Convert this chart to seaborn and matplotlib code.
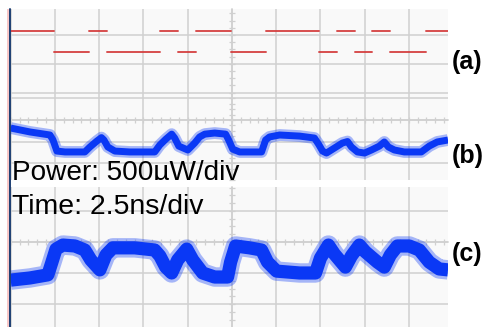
import matplotlib
matplotlib.use("Agg")
import matplotlib.pyplot as plt
from matplotlib.ticker import MultipleLocator
from matplotlib.lines import Line2D
from matplotlib.patches import Rectangle
import pandas as pd
import seaborn as sns

# ---------------- data (time in ns, amplitude in screen divisions) ----------------
# (a) digital drive signal: horizontal segments
a_seg_start = [0.00, 2.45, 4.45, 5.45, 8.45, 9.45, 10.45, 12.45, 14.45, 17.45, 18.45, 19.45, 20.45, 21.45, 23.45]
a_seg_end = [2.45, 4.45, 5.45, 8.45, 9.45, 10.45, 12.45, 14.45, 17.45, 18.45, 19.45, 20.45, 21.45, 23.45, 24.72]
a_seg_level = [2.13, 1.41, 2.13, 1.41, 2.13, 1.41, 2.13, 1.41, 2.13, 1.41, 2.13, 1.41, 2.13, 1.41, 2.13]

# (b) optical power trace
b_time = [0.00, 1.09, 2.22, 2.39, 2.61, 3.07, 4.19, 4.48, 4.87, 5.13, 5.27, 5.49, 5.89, 6.73,
          8.14, 8.43, 8.77, 9.10, 9.27, 9.50, 10.01, 10.40, 10.68, 10.97, 11.53, 12.15, 12.32,
          12.55, 12.94, 14.18, 14.41, 14.63, 15.20, 16.33, 17.17, 17.40, 17.63, 17.85, 18.30,
          18.75, 19.04, 19.26, 19.60, 20.00, 20.39, 20.84, 21.12, 21.35, 21.69, 22.25, 23.21,
          23.66, 24.11, 24.72]
b_level = [-0.37, -0.55, -0.69, -0.92, -1.43, -1.47, -1.47, -1.24, -0.97, -0.81, -0.92, -1.24,
           -1.43, -1.47, -1.47, -1.15, -0.88, -0.65, -0.83, -1.20, -1.38, -1.06, -0.78, -0.65,
           -0.60, -0.65, -0.92, -1.34, -1.47, -1.47, -0.92, -0.78, -0.69, -0.74, -0.83, -1.11,
           -1.43, -1.52, -1.29, -1.06, -0.99, -1.24, -1.47, -1.52, -1.38, -1.20, -1.01, -1.24,
           -1.38, -1.47, -1.47, -1.20, -1.01, -0.92]

# (c) optical power trace
c_time = [0.00, 1.09, 2.10, 2.33, 2.56, 2.95, 3.63, 4.19, 4.53, 5.04, 5.38, 5.77, 7.01, 8.14,
          8.43, 8.76, 9.10, 9.44, 9.95, 10.29, 10.85, 11.53, 12.26, 12.43, 12.71, 13.50, 14.18,
          14.52, 15.03, 16.33, 17.23, 17.51, 17.96, 18.30, 18.92, 19.26, 19.71, 20.05, 20.73,
          21.12, 21.46, 21.86, 22.53, 23.10, 23.66, 24.22, 24.72]
c_level = [-1.23, -1.16, -1.06, -0.65, -0.23, -0.10, -0.13, -0.26, -0.58, -0.90, -0.42, -0.19,
           -0.19, -0.26, -0.45, -0.81, -1.00, -0.58, -0.23, -0.58, -1.00, -1.13, -1.13, -0.65,
           -0.13, -0.19, -0.26, -0.65, -0.94, -1.00, -1.00, -0.52, -0.10, -0.39, -0.81, -0.45,
           -0.10, -0.32, -0.65, -0.81, -0.42, -0.13, -0.13, -0.26, -0.65, -0.87, -0.90]

panel_labels = ["(a)", "(b)", "(c)"]
power_text = "Power: 500\u00b5W/div"
time_text = "Time: 2.5ns/div"

# ---------------- styling ----------------
sns.set_theme(style="whitegrid")
plt.rcParams["font.family"] = ["Liberation Sans", "DejaVu Sans"]

W, H = 486, 327
fig = plt.figure(figsize=(W / 100, H / 100), dpi=100)
fig.patch.set_facecolor("white")


def px_axes(top, bottom, left=10, right=448):
    return fig.add_axes([left / W, 1 - bottom / H, (right - left) / W, (bottom - top) / H])


ax_a = px_axes(9, 95)
ax_b = px_axes(95, 180)
ax_c = px_axes(187, 327)

GRID = "#d0d0d0"
BG = "#f9f9f9"
RED = "#d43c3c"
BLUE = "#0a38f5"

panels = [(ax_a, (-0.08, 2.90), False), (ax_b, (-2.76, 1.15), True), (ax_c, (-2.74, 1.77), True)]
for ax, ylim, hcenter in panels:
    ax.set_facecolor(BG)
    ax.set_xlim(-0.04, 24.72)
    ax.set_ylim(*ylim)
    ax.xaxis.set_major_locator(MultipleLocator(2.5))
    ax.yaxis.set_major_locator(MultipleLocator(1))
    ax.grid(True, which="major", color=GRID, lw=1.1)
    ax.set_axisbelow(True)
    for s in ax.spines.values():
        s.set_visible(False)
    sp = ax.spines["right"]
    sp.set_visible(True)
    sp.set_position(("data", 12.5))
    sp.set_color(GRID)
    sp.set_linewidth(1.1)
    sp.set_zorder(0.6)
    ax.yaxis.set_ticks_position("right")
    ax.yaxis.set_minor_locator(MultipleLocator(0.25))
    ax.tick_params(axis="y", which="both", direction="inout", length=5, width=0.9,
                   color=GRID, labelright=False, labelleft=False)
    if hcenter:
        st = ax.spines["top"]
        st.set_visible(True)
        st.set_position(("data", 0))
        st.set_color(GRID)
        st.set_linewidth(1.1)
        st.set_zorder(0.6)
        ax.xaxis.set_ticks_position("top")
        ax.xaxis.set_minor_locator(MultipleLocator(0.5))
        ax.tick_params(axis="x", which="both", direction="inout", length=5, width=0.9,
                       color=GRID, labeltop=False, labelbottom=False)
    else:
        ax.tick_params(axis="x", which="both", length=0, labelbottom=False, labeltop=False)

# ---------------- traces ----------------
df_a = pd.DataFrame({
    "t": a_seg_start + a_seg_end,
    "v": a_seg_level + a_seg_level,
    "seg": list(range(len(a_seg_start))) * 2,
})
sns.lineplot(data=df_a, x="t", y="v", units="seg", estimator=None, color=RED,
             lw=1.4, alpha=0.9, ax=ax_a, legend=False, zorder=3)

df_b = pd.DataFrame({"t": b_time, "v": b_level})
sns.lineplot(data=df_b, x="t", y="v", color=BLUE, lw=8.5, alpha=0.35, ax=ax_b,
             legend=False, zorder=3, solid_joinstyle="round", solid_capstyle="butt")
sns.lineplot(data=df_b, x="t", y="v", color=BLUE, lw=5.0, ax=ax_b,
             legend=False, zorder=4, solid_joinstyle="round", solid_capstyle="butt")

df_c = pd.DataFrame({"t": c_time, "v": c_level})
sns.lineplot(data=df_c, x="t", y="v", color=BLUE, lw=14, alpha=0.35, ax=ax_c,
             legend=False, zorder=3, solid_joinstyle="round", solid_capstyle="butt")
sns.lineplot(data=df_c, x="t", y="v", color=BLUE, lw=9.5, ax=ax_c,
             legend=False, zorder=4, solid_joinstyle="round", solid_capstyle="butt")

for ax in (ax_a, ax_b, ax_c):
    ax.set_xlabel("")
    ax.set_ylabel("")

# ---------------- frame decorations ----------------
fig.add_artist(Rectangle((7 / W, 0), 2.6 / W, 1 - 9 / H, transform=fig.transFigure,
                         facecolor="#f8c8c8", edgecolor="none", zorder=5))
fig.add_artist(Line2D([10.4 / W, 10.4 / W], [0, 1 - 9 / H], transform=fig.transFigure,
                      color="#1d3f73", lw=1.4, zorder=6))

# ---------------- texts ----------------
ann_family = ["Liberation Sans", "DejaVu Sans"]
ax_b.text(12 / W, 1 - 180.5 / H, power_text, transform=fig.transFigure, family=ann_family,
          fontsize=20.2, color="black", ha="left", va="baseline", clip_on=True, zorder=10)
ax_c.text(12 / W, 1 - 213.5 / H, time_text, transform=fig.transFigure, family=ann_family,
          fontsize=20.4, color="black", ha="left", va="baseline", zorder=10)

label_y = [61.5, 156.5, 253.5]
for lab, yy in zip(panel_labels, label_y):
    fig.text(452 / W, 1 - yy / H, lab, family=["Liberation Sans", "DejaVu Sans"],
             fontsize=18, fontweight="bold", color="black", ha="left", va="center")

fig.savefig("out.png", dpi=100, facecolor="white")
